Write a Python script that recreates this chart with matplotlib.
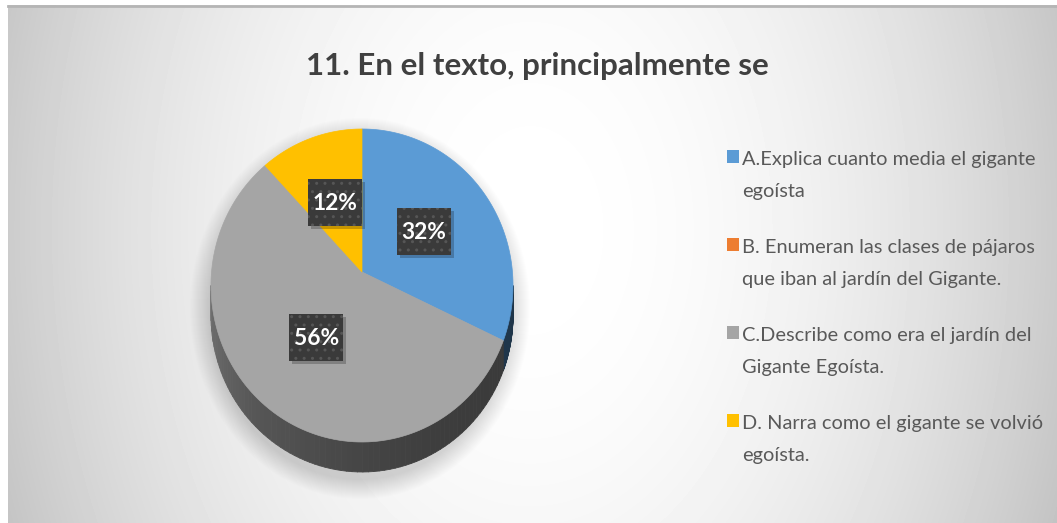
import numpy as np
import matplotlib.pyplot as plt
from matplotlib import font_manager
from matplotlib.patches import Polygon, Rectangle, Ellipse
from matplotlib.collections import PolyCollection
from matplotlib.colors import to_rgb

title = "11. En el texto, principalmente se"
categories = ["A.Explica cuanto media el gigante\negoísta",
              "B. Enumeran las clases de pájaros\nque iban al jardín del Gigante.",
              "C.Describe como era el jardín del\nGigante Egoísta.",
              "D. Narra como el gigante se volvió\negoísta."]
values = [32, 0, 56, 12]
colors = ["#5B9BD5", "#ED7D31", "#A5A5A5", "#FFC000"]

names = {f.name for f in font_manager.fontManager.ttflist}
font = next(f for f in ["Lato", "Open Sans", "DejaVu Sans"] if f in names)
plt.rcParams['font.family'] = [font, 'DejaVu Sans']

fig = plt.figure(figsize=(10.57, 5.23), dpi=100)
ax = fig.add_axes([0, 0, 1, 1])
ax.set_xlim(0, 1057)
ax.set_ylim(523, 0)
ax.axis('off')

# background: soft radial gradient
yy, xx = np.mgrid[5:523, 8:1057]
rr = ((xx - 530) / 560.0) ** 2 + ((yy - 230) / 800.0) ** 2
bg = 1 - 0.23 * rr
ax.imshow(bg, cmap='gray', vmin=0, vmax=1, extent=(8, 1057, 523, 5),
          aspect='auto', interpolation='bilinear', zorder=0)
ax.plot([8, 1057], [6, 6], color='#b5b5b5', lw=2, zorder=1)

# perspective projection of the pie disc
cx, cy = 362, 272
top, bottom, half_w, depth = 129, 442, 151, 30
c = (bottom + top - 2 * cy) / (bottom - top)
a = top * (1 + c) - cy
k = half_w * np.sqrt(1 - c ** 2)


def proj(t, r=1.0, dz=0):
    X, Y = r * np.cos(t), r * np.sin(t)
    d = 1 + c * Y
    return cx + k * X / d, (a * Y + cy) / d + dz


# soft shadow
for s in range(20):
    ax.add_patch(Ellipse((cx - 2, (top + bottom + depth) / 2 + 8), 2 * half_w + 2 * s,
                         bottom + depth - top + 2 * s, color='k', alpha=0.008, lw=0, zorder=2))

total = sum(values)
bounds = 90 - 360 * np.cumsum([0] + values) / total
t_r = -np.degrees(np.arcsin(c))
t_l = -180 + np.degrees(np.arcsin(c))

# side of the pie
quads, qcols = [], []
for i, v in enumerate(values):
    hi = min(bounds[i], t_r)
    lo = max(bounds[i + 1], t_l)
    if v == 0 or lo >= hi:
        continue
    t = np.linspace(hi, lo, 80)
    base = np.array(to_rgb(colors[i]))
    for j in range(len(t) - 1):
        t1, t2 = np.radians(t[j]), np.radians(t[j + 1])
        x1, y1 = proj(t1)
        x2, y2 = proj(t2)
        quads.append([(x1, y1), (x2, y2), (x2, y2 + depth), (x1, y1 + depth)])
        u = -(t[j] + t[j + 1]) / 2
        f = np.interp(u, [5, 60, 90, 130, 175], [0.34, 0.37, 0.42, 0.52, 0.68])
        qcols.append(base * f)
ax.add_collection(PolyCollection(quads, facecolors=qcols, edgecolors=qcols, lw=0.6, zorder=3))

# top face
for i, v in enumerate(values):
    if v == 0:
        continue
    t = np.radians(np.linspace(bounds[i], bounds[i + 1], 120))
    xs, ys = proj(t)
    pts = [(cx, cy)] + list(zip(xs, ys))
    ax.add_patch(Polygon(pts, closed=True, fc=colors[i], ec=colors[i], lw=0.5, zorder=4))

fig.canvas.draw()
rend = fig.canvas.get_renderer()


def fit(txt, width):
    w = txt.get_window_extent(rend).width
    txt.set_fontsize(txt.get_fontsize() * width / w)


# data labels
for i, v in enumerate(values):
    if v == 0:
        continue
    mid = np.radians((bounds[i] + bounds[i + 1]) / 2)
    lx, ly = proj(mid, r=0.5)
    ax.add_patch(Rectangle((lx - 27 + 3, ly - 23.5 + 3), 54, 47, fc='k', alpha=0.22, lw=0, zorder=5))
    ax.add_patch(Rectangle((lx - 27, ly - 23.5), 54, 47, fc='#3a3a3a', ec='#565656',
                           lw=0, hatch='..', zorder=6))
    t = ax.text(lx, ly + 1, f"{v}%", ha='center', va='center', color='white',
                fontsize=16, fontweight='bold', zorder=7)
    fit(t, 45)

# title
tt = ax.text(537, 75, title, ha='center', va='baseline', color='#404040',
             fontsize=28, fontweight='bold', zorder=7)
fit(tt, 462)

# legend
leg_texts = []
for i, lab in enumerate(categories):
    y0 = 165 + 88 * i
    ax.add_patch(Rectangle((727, y0 - 15), 12, 13, fc=colors[i], lw=0, zorder=7))
    for j, line in enumerate(lab.split('\n')):
        leg_texts.append(ax.text(742, y0 + 32 * j, line, ha='left', va='baseline',
                                 color='#595959', fontsize=15, zorder=7))
w = leg_texts[0].get_window_extent(rend).width
for t in leg_texts:
    t.set_fontsize(t.get_fontsize() * 294 / w)

fig.savefig("out.png", dpi=100, facecolor='white')
